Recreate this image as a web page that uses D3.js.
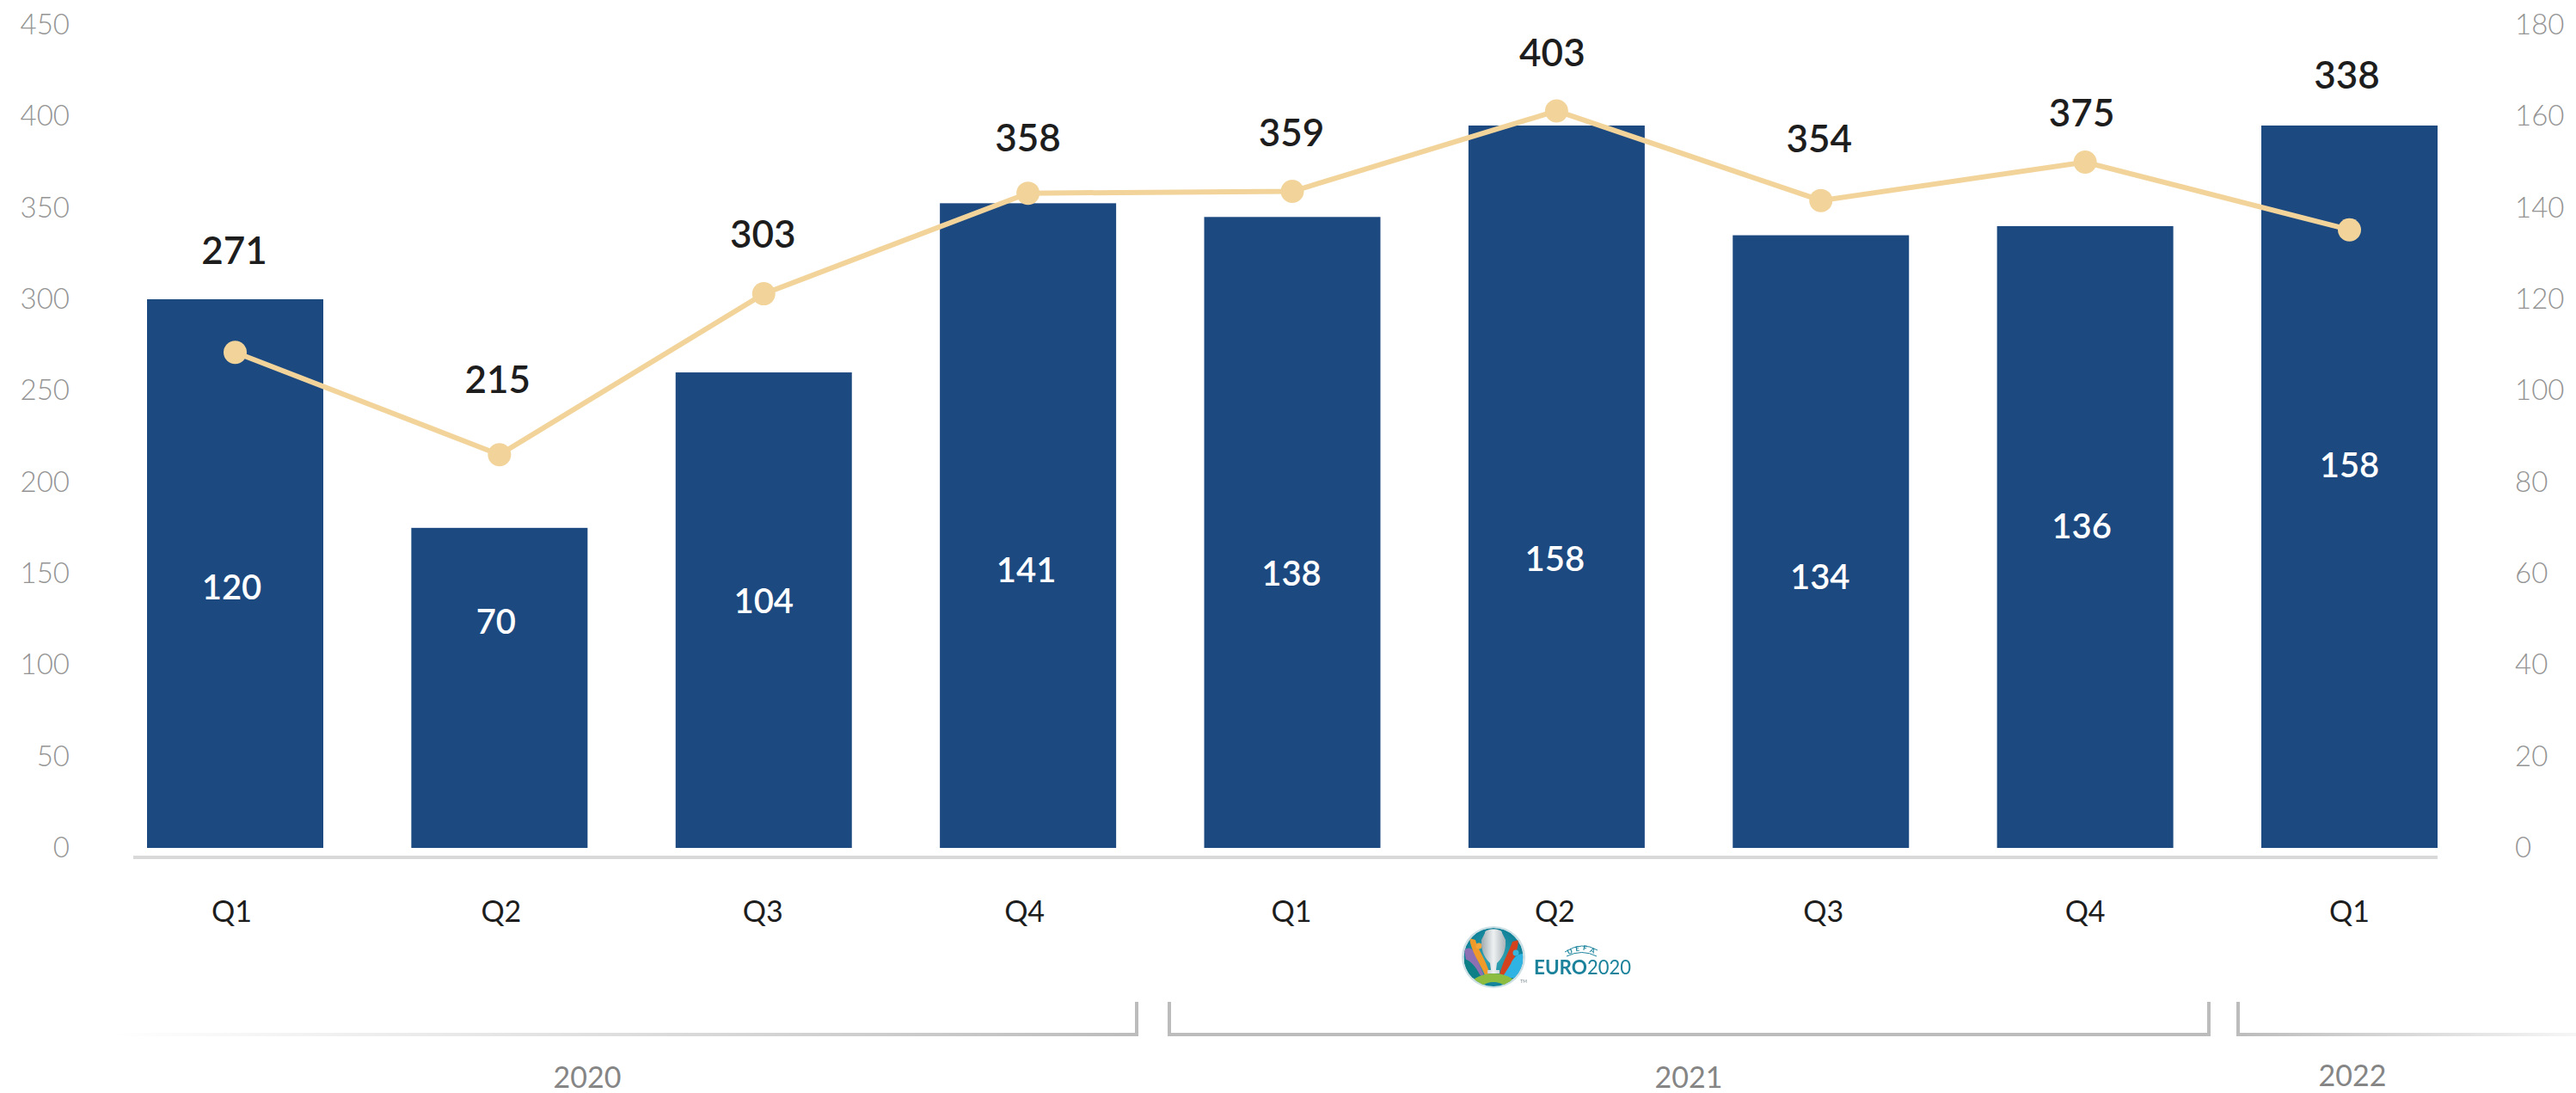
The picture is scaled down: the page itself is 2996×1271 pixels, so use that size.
<!DOCTYPE html>
<html>
<head>
<meta charset="utf-8">
<script src="https://cdn.jsdelivr.net/npm/d3@7/dist/d3.min.js"></script>
<style>
html,body{margin:0;padding:0;background:#fff;}
svg{display:block;}
text{font-family:Lato,"Open Sans",sans-serif;}
</style>
</head>
<body>
<svg id="chart" width="2996" height="1271" xmlns="http://www.w3.org/2000/svg"></svg>
<script>
// ---- data ----
const quarters = ["Q1","Q2","Q3","Q4","Q1","Q2","Q3","Q4","Q1"];
const barValues = [120,70,104,141,138,158,134,136,158];   // read on right axis
const lineValues = [271,215,303,358,359,403,354,375,338]; // read on left axis
const leftTicks = [0,50,100,150,200,250,300,350,400,450];
const rightTicks = [0,20,40,60,80,100,120,140,160,180];
const yearLabels = ["2020","2021","2022"];

// ---- layout (label heights are given in axis units) ----
const barLabelLevels = [57,49.5,54,60.8,60,63.2,59.2,70.4,83.7];
const barLabelShift = [-4,-4,0,-2,-1,-2,-1,-4,0];
const lineLabelLevels = [326.3,255.8,335.3,387.9,390.8,434.5,387.5,401.6,422.3];
const lineLabelShift = [-1,-2,-1,0,-1,-5,-2,-4,-3];
const quarterShift = [-4,2,-1,-4,-1,-2,3,0,0];
const yearLabelX = [683,1964,2736];
const yearLabelY = [1253,1253,1251];

const svg = d3.select("#chart");
const idx = quarters.map((_,i)=>i);

const x = d3.scaleBand().domain(idx).range([171,2835]).paddingInner(0.3331).paddingOuter(0);
const cx = i => x(i)+x.bandwidth()/2;
const yLeft = d3.scaleLinear().domain([0,450]).range([986,29]);
const yRight = d3.scaleLinear().domain([0,180]).range([986,29]);

const defs = svg.append("defs");
const gradL = defs.append("linearGradient").attr("id","fadeL").attr("gradientUnits","userSpaceOnUse")
  .attr("x1",130).attr("x2",1322).attr("y1",0).attr("y2",0);
gradL.append("stop").attr("offset",0).attr("stop-color","#ffffff");
gradL.append("stop").attr("offset",1).attr("stop-color","#bcbcbc");
const gradR = defs.append("linearGradient").attr("id","fadeR").attr("gradientUnits","userSpaceOnUse")
  .attr("x1",2603).attr("x2",2996).attr("y1",0).attr("y2",0);
gradR.append("stop").attr("offset",0).attr("stop-color","#bcbcbc");
gradR.append("stop").attr("offset",1).attr("stop-color","#f6f6f6");
const teal = defs.append("radialGradient").attr("id","emblemBg");
teal.append("stop").attr("offset",0).attr("stop-color","#38a9b8");
teal.append("stop").attr("offset",1).attr("stop-color","#0f8198");
const cup = defs.append("linearGradient").attr("id","cup");
cup.append("stop").attr("offset",0).attr("stop-color","#9eaab0");
cup.append("stop").attr("offset",0.5).attr("stop-color","#eef1f2");
cup.append("stop").attr("offset",1).attr("stop-color","#a9b3b8");
defs.append("filter").attr("id","soft").append("feGaussianBlur").attr("stdDeviation",0.45);
defs.append("clipPath").attr("id","emblemClip").append("ellipse").attr("rx",34.5).attr("ry",34);

// bars
svg.append("g").selectAll("rect").data(barValues).join("rect")
  .attr("x",(d,i)=>x(i)).attr("width",x.bandwidth())
  .attr("y",d=>yRight(d)).attr("height",d=>yRight(0)-yRight(d))
  .attr("fill","#1c4980");

// baseline
svg.append("line").attr("x1",155).attr("x2",2835).attr("y1",997).attr("y2",997)
  .attr("stroke","#d9d9d9").attr("stroke-width",4);

// axes
const gl = svg.append("g").attr("transform","translate(81,0)")
  .call(d3.axisLeft(yLeft).tickValues(leftTicks).tickSize(0).tickPadding(0));
const gr = svg.append("g").attr("transform","translate(2925,0)")
  .call(d3.axisRight(yRight).tickValues(rightTicks).tickSize(0).tickPadding(0));
[gl,gr].forEach(g=>{
  g.select(".domain").remove();
  g.selectAll("text").style("font-family","Lato").style("font-size","33px").style("font-weight",300).attr("fill","#949494");
});

// line and points
const line = d3.line().x((d,i)=>cx(i)).y(d=>yLeft(d));
svg.append("path").datum(lineValues).attr("d",line).attr("fill","none")
  .attr("stroke","#f2d49b").attr("stroke-width",6);
svg.append("g").selectAll("circle").data(lineValues).join("circle")
  .attr("cx",(d,i)=>cx(i)).attr("cy",d=>yLeft(d)).attr("r",13.5).attr("fill","#f2d49b");

// value labels
svg.append("g").selectAll("text").data(lineValues).join("text")
  .attr("x",(d,i)=>cx(i)+lineLabelShift[i]).attr("y",(d,i)=>yLeft(lineLabelLevels[i]))
  .attr("dy","0.35em").attr("text-anchor","middle")
  .attr("font-size",44).attr("font-weight",600).attr("fill","#1d1d1d").text(d=>d);
svg.append("g").selectAll("text").data(barValues).join("text")
  .attr("x",(d,i)=>cx(i)+barLabelShift[i]).attr("y",(d,i)=>yRight(barLabelLevels[i]))
  .attr("dy","0.35em").attr("text-anchor","middle")
  .attr("font-size",40).attr("font-weight",600).attr("fill","#fff").text(d=>d);

// quarter labels
svg.append("g").selectAll("text").data(quarters).join("text")
  .attr("x",(d,i)=>cx(i)+quarterShift[i]).attr("y",1060).attr("dy","0.35em").attr("text-anchor","middle")
  .attr("font-size",34).attr("font-weight",400).attr("fill","#1d1d1d").text(d=>d);

// year brackets
const brackets = svg.append("g").attr("fill","none").attr("stroke-width",4);
brackets.append("path").attr("d","M130,1203H1322").attr("stroke","url(#fadeL)");
brackets.append("path").attr("d","M1322,1205V1165").attr("stroke","#bcbcbc");
brackets.append("path").attr("d","M1360,1165V1203H2569V1165").attr("stroke","#bcbcbc");
brackets.append("path").attr("d","M2603,1165V1201").attr("stroke","#bcbcbc");
brackets.append("path").attr("d","M2601,1203H2996").attr("stroke","url(#fadeR)");

svg.append("g").selectAll("text").data(yearLabels).join("text")
  .attr("x",(d,i)=>yearLabelX[i]).attr("y",(d,i)=>yearLabelY[i]).attr("dy","0.35em")
  .attr("text-anchor","middle").attr("font-size",34).attr("font-weight",400).attr("fill","#858585").text(d=>d);

// tournament logo
const logo = svg.append("g").attr("filter","url(#soft)");
const em = logo.append("g").attr("transform","translate(1737,1113)");
em.append("ellipse").attr("rx",37).attr("ry",36).attr("fill","#cbdfe4");
const inner = em.append("g").attr("clip-path","url(#emblemClip)");
inner.append("ellipse").attr("rx",34.5).attr("ry",34).attr("fill","url(#emblemBg)");
inner.append("path").attr("d","M-34,-8C-28,-14 -22,-8 -20,0L-10,24L-30,14Z").attr("fill","#8c6fb3");
inner.append("path").attr("d","M-34,2C-26,4 -20,12 -14,24L-34,24Z").attr("fill","#0e7f86");
inner.append("path").attr("d","M-28,-22L-21,-20C-18,-8 -10,0 -4,20L-10,21C-16,6 -26,-6 -28,-22Z").attr("fill","#f09a2b");
inner.append("ellipse").attr("cx",-17).attr("cy",-13).attr("rx",3.5).attr("ry",3.5).attr("fill","#f2a63a");
inner.append("path").attr("d","M29,-20L22,-18C18,-6 12,2 7,20L13,21C22,8 28,-4 29,-20Z").attr("fill","#d3431f");
inner.append("path").attr("d","M34,-4C28,-4 22,2 20,8L10,24L28,24L34,12Z").attr("fill","#2fb3e3");
inner.append("ellipse").attr("cx",26).attr("cy",-5).attr("rx",3.5).attr("ry",3.5).attr("fill","#39b6dc");
inner.append("path").attr("d","M-10,-28C-11,-34 11,-34 10,-28L14,-20C15,-6 9,2 4,7L3,15H7V19H-7V15H-3L-4,7C-9,2 -15,-6 -14,-20Z").attr("fill","url(#cup)");
inner.append("path").attr("d","M-30,36C-26,24 -12,19 0,19C12,19 26,24 30,36L16,36C12,31 6,29 0,29C-6,29 -12,31 -16,36Z").attr("fill","#8dbd3f");

const tealInk = "#1a829b";
logo.append("text").attr("x",1784).attr("y",1133).attr("font-size",23).attr("font-weight",700)
  .attr("fill",tealInk).attr("textLength",62).attr("lengthAdjust","spacingAndGlyphs").text("EURO");
logo.append("text").attr("x",1846).attr("y",1133).attr("font-size",23).attr("font-weight",400)
  .attr("fill",tealInk).attr("textLength",51).attr("lengthAdjust","spacingAndGlyphs").text("2020");
logo.append("text").attr("x",1772).attr("y",1143).attr("font-size",5).attr("text-anchor","middle")
  .attr("fill","#7a8a90").text("TM");
logo.append("path").attr("d","M1820,1107Q1840,1094 1858,1105").attr("fill","none").attr("stroke",tealInk).attr("stroke-width",1);
logo.append("path").attr("d","M1822,1112Q1840,1103 1857,1112").attr("fill","none").attr("stroke",tealInk).attr("stroke-width",1);
[["U",1827,1109,-24],["E",1835,1106,-9],["F",1843,1105,9],["A",1851,1108,24]].forEach(([t,lx,ly,r])=>{
  logo.append("text").attr("transform",`translate(${lx},${ly}) rotate(${r})`).attr("text-anchor","middle")
    .attr("font-size",8).attr("font-weight",700).attr("fill",tealInk).text(t);
});
</script>
</body>
</html>
